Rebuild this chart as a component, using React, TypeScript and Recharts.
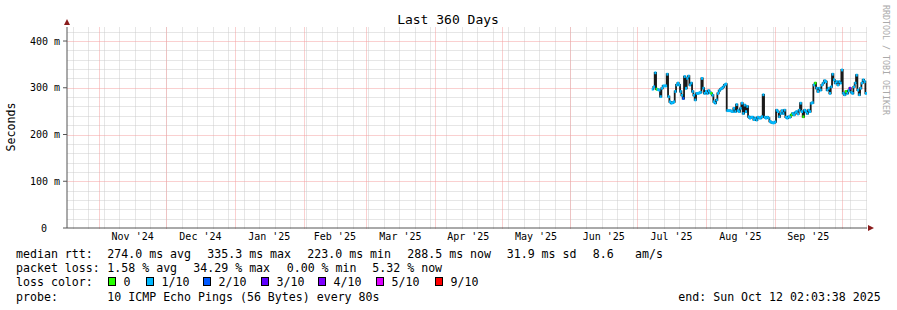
import React from 'react';
import {
  ComposedChart,
  Line,
  Scatter,
  XAxis,
  YAxis,
  ReferenceLine,
} from 'recharts';

const DAY = 86400000;
// x axis spans 360 days, ending Oct 12 2025
const axisStart = Date.UTC(2024, 9, 17, 11, 0);
const axisEnd = axisStart + 360 * DAY;
const jul1 = Date.UTC(2025, 6, 1);

// samples start ~Jul 8 2025, one every 0.6 day
const firstSampleDay = 7.03;
const sampleStepDays = 0.6;

// median rtt in ms
const medianMs = [
  297, 302, 332, 297, 296, 295, 281, 299, 304, 304,
  304, 329, 281, 270, 267, 268, 270, 292, 306, 310,
  306, 292, 284, 277, 324, 299, 320, 325, 306, 310,
  292, 284, 274, 288, 288, 289, 290, 320, 299, 288,
  292, 288, 294, 290, 288, 284, 270, 267, 274, 288, 294,
  297, 299, 302, 306, 308, 251, 251, 251, 250, 249,
  256, 249, 264, 251, 249, 256, 267, 245, 263, 249,
  260, 238, 235, 237, 237, 232, 235, 231, 237, 235,
  235, 238, 285, 237, 235, 237, 235, 228, 226, 225,
  225, 227, 252, 249, 238, 245, 251, 245, 252, 237,
  235, 238, 237, 242, 245,
  242, 247, 249, 244, 252, 267, 249, 238, 252, 249,
  245, 252, 249, 267, 268, 306, 310, 299, 292, 299,
  295, 306, 310, 315, 313, 295, 299, 288, 302, 329,
  317, 310, 313, 306, 313, 310, 338, 288, 285, 292,
  288, 294, 299, 290, 288, 302, 310, 327, 295, 285,
  299, 310, 317, 313, 288,
];

// packet loss in tenths; everything not listed is 1/10
const lossExceptions: [number, number][] = [
  [3, 0], [23, 2], [44, 0], [104, 0], [113, 0], [122, 0], [145, 0], [148, 3],
];

const lossColors: Record<number, string> = {
  0: '#26ff00',
  1: '#00b8ff',
  2: '#0059ff',
  3: '#5e00ff',
  4: '#7e00ff',
  5: '#dd00ff',
  9: '#ff0000',
};
const lossLegend = [
  { level: 0, label: '0', x: 108 },
  { level: 1, label: '1/10', x: 146 },
  { level: 2, label: '2/10', x: 203 },
  { level: 3, label: '3/10', x: 261 },
  { level: 4, label: '4/10', x: 318 },
  { level: 5, label: '5/10', x: 376 },
  { level: 9, label: '9/10', x: 435 },
];

const monthLabels = [
  "Nov '24", "Dec '24", "Jan '25", "Feb '25", "Mar '25", "Apr '25",
  "May '25", "Jun '25", "Jul '25", "Aug '25", "Sep '25",
];
const yTicks = [0, 100, 200, 300, 400];
const yTickLabels = ['0', '100 m', '200 m', '300 m', '400 m'];

const data = medianMs.map((v, i) => {
  const exc = lossExceptions.find((e) => e[0] === i);
  return {
    t: jul1 + (firstSampleDay + i * sampleStepDays) * DAY,
    median: v,
    loss: exc ? exc[1] : 1,
  };
});

// month boundaries Nov 1 2024 .. Oct 1 2025
const monthStarts: number[] = [];
for (let m = 0; m < 12; m++) monthStarts.push(Date.UTC(2024, 10 + m, 1));
const monthMids = monthLabels.map((_, i) => (monthStarts[i] + monthStarts[i + 1]) / 2);

const weekLines: number[] = [];
for (let t = Date.UTC(2024, 9, 20); t < axisEnd; t += 7 * DAY) weekLines.push(t);

const minorY: number[] = [];
for (let v = 20; v <= 420; v += 20) if (v % 100 !== 0) minorY.push(v);

const FONT = 'DejaVu Sans Mono';
const minorColor = '#cdcdcd';
const majorColor = '#f4a0a0';

const YTick = (props: any) => {
  const { x, y, payload } = props;
  const idx = yTicks.indexOf(payload.value);
  const label = yTickLabels[idx];
  return (
    <text x={payload.value === 0 ? x - 13 : x} y={y} dy="0.35em" textAnchor="end"
      fontFamily={FONT} fontSize={10} fill="#000">
      {label}
    </text>
  );
};

const LossMark = (props: any) => {
  const { cx, cy, payload } = props;
  if (cx == null || cy == null) return null;
  return <rect x={cx - 1} y={cy - 1.4} width={2} height={2.8} fill={lossColors[payload.loss]} />;
};

// dotted grid line snapped to whole pixels, like rrdtool does
const GridLine = (color: string) => (props: any) => {
  const { x1, x2, y1, y2 } = props;
  return (
    <line x1={Math.round(x1) + 0.5} x2={Math.round(x2) + 0.5}
      y1={Math.round(y1) + 0.5} y2={Math.round(y2) + 0.5}
      stroke={color} strokeWidth={1} strokeDasharray="1 1" />
  );
};
const minorLine = GridLine(minorColor);
const majorLine = GridLine(majorColor);

const legendRows = [
  { y: 254, items: [
    ['median rtt:', 16], ['274.0 ms avg', 107.3], ['335.3 ms max', 207.3], ['223.0 ms min', 307.3],
    ['288.5 ms now', 407.3], ['31.9 ms sd', 506.7], ['8.6', 592.7], ['am/s', 635],
  ] },
  { y: 268.3, items: [
    ['packet loss:', 16], ['1.58 % avg', 107.3], ['34.29 % max', 193.3], ['0.00 % min', 286.7], ['5.32 % now', 372.3],
  ] },
  { y: 296.5, items: [
    ['probe:', 16], ['10 ICMP Echo Pings (56 Bytes) every 80s', 107.3], ['end: Sun Oct 12 02:03:38 2025', 678.3],
  ] },
];

export default function App() {
  return (
    <div style={{ position: 'absolute', left: 0, top: 0, width: 897, height: 310, background: '#fff' }}>
      <ComposedChart width={897} height={310} data={data}
        margin={{ top: 27, right: 30, bottom: 52, left: 7 }}>
        <XAxis dataKey="t" type="number" domain={[axisStart, axisEnd]} allowDataOverflow
          ticks={monthMids} tickFormatter={(v: number) => monthLabels[monthMids.indexOf(v)]}
          interval={0} height={30} tickLine={false} tickSize={0} tickMargin={5}
          axisLine={{ stroke: '#555' }}
          tick={{ fontFamily: FONT, fontSize: 10, fill: '#000' }} />
        <YAxis type="number" domain={[0, 430]} ticks={yTicks} width={60} interval={0}
          tickSize={4} tickMargin={3} tickLine={{ stroke: '#555' }}
          axisLine={{ stroke: '#555' }} tick={<YTick />} />
        {weekLines.map((t) => (
          <ReferenceLine key={'w' + t} x={t} shape={minorLine} />
        ))}
        {minorY.map((v) => (
          <ReferenceLine key={'h' + v} y={v} shape={minorLine} />
        ))}
        {monthStarts.map((t) => (
          <ReferenceLine key={'m' + t} x={t} shape={majorLine} />
        ))}
        {yTicks.filter((v) => v > 0).map((v) => (
          <ReferenceLine key={'y' + v} y={v} shape={majorLine} />
        ))}
        <Line type="step" dataKey="median" stroke="#1a1a1a" strokeWidth={1.8} dot={false}
          isAnimationActive={false} />
        <Scatter dataKey="median" shape={<LossMark />} isAnimationActive={false} />
      </ComposedChart>
      <svg width={897} height={310} style={{ position: 'absolute', left: 0, top: 0, pointerEvents: 'none' }}>
        <polygon points="64,25 70,25 67,19" fill="#8a1c1c" />
        <polygon points="868,225 868,231 874,228" fill="#8a1c1c" />
        <text x={448} y={19} textAnchor="middle" dominantBaseline="central" fontFamily={FONT} fontSize={13}>
          Last 360 Days
        </text>
        <text x={11} y={127} textAnchor="middle" dominantBaseline="central" fontFamily={FONT} fontSize={11.6}
          transform="rotate(-90 11 127)">
          Seconds
        </text>
        <text x={886} y={60} textAnchor="middle" dominantBaseline="central" fontFamily={FONT} fontSize={8.3}
          fill="#aaa" transform="rotate(90 886 60)">
          RRDTOOL / TOBI OETIKER
        </text>
        {legendRows.map((row) => row.items.map(([s, x]) => (
          <text key={row.y + String(s)} x={x as number} y={row.y} dominantBaseline="central"
            fontFamily={FONT} fontSize={11.6} fill="#000" style={{ whiteSpace: 'pre' }}>
            {s}
          </text>
        )))}
        <text x={16} y={281.7} dominantBaseline="central" fontFamily={FONT} fontSize={11.6}>loss color:</text>
        {lossLegend.map((l) => (
          <g key={l.label}>
            <rect x={l.x + 0.5} y={277.5} width={7} height={8} fill={lossColors[l.level]} stroke="#000" strokeWidth={1} />
            <text x={l.x + 15.5} y={281.7} dominantBaseline="central" fontFamily={FONT} fontSize={11.6}>
              {l.label}
            </text>
          </g>
        ))}
      </svg>
    </div>
  );
}
